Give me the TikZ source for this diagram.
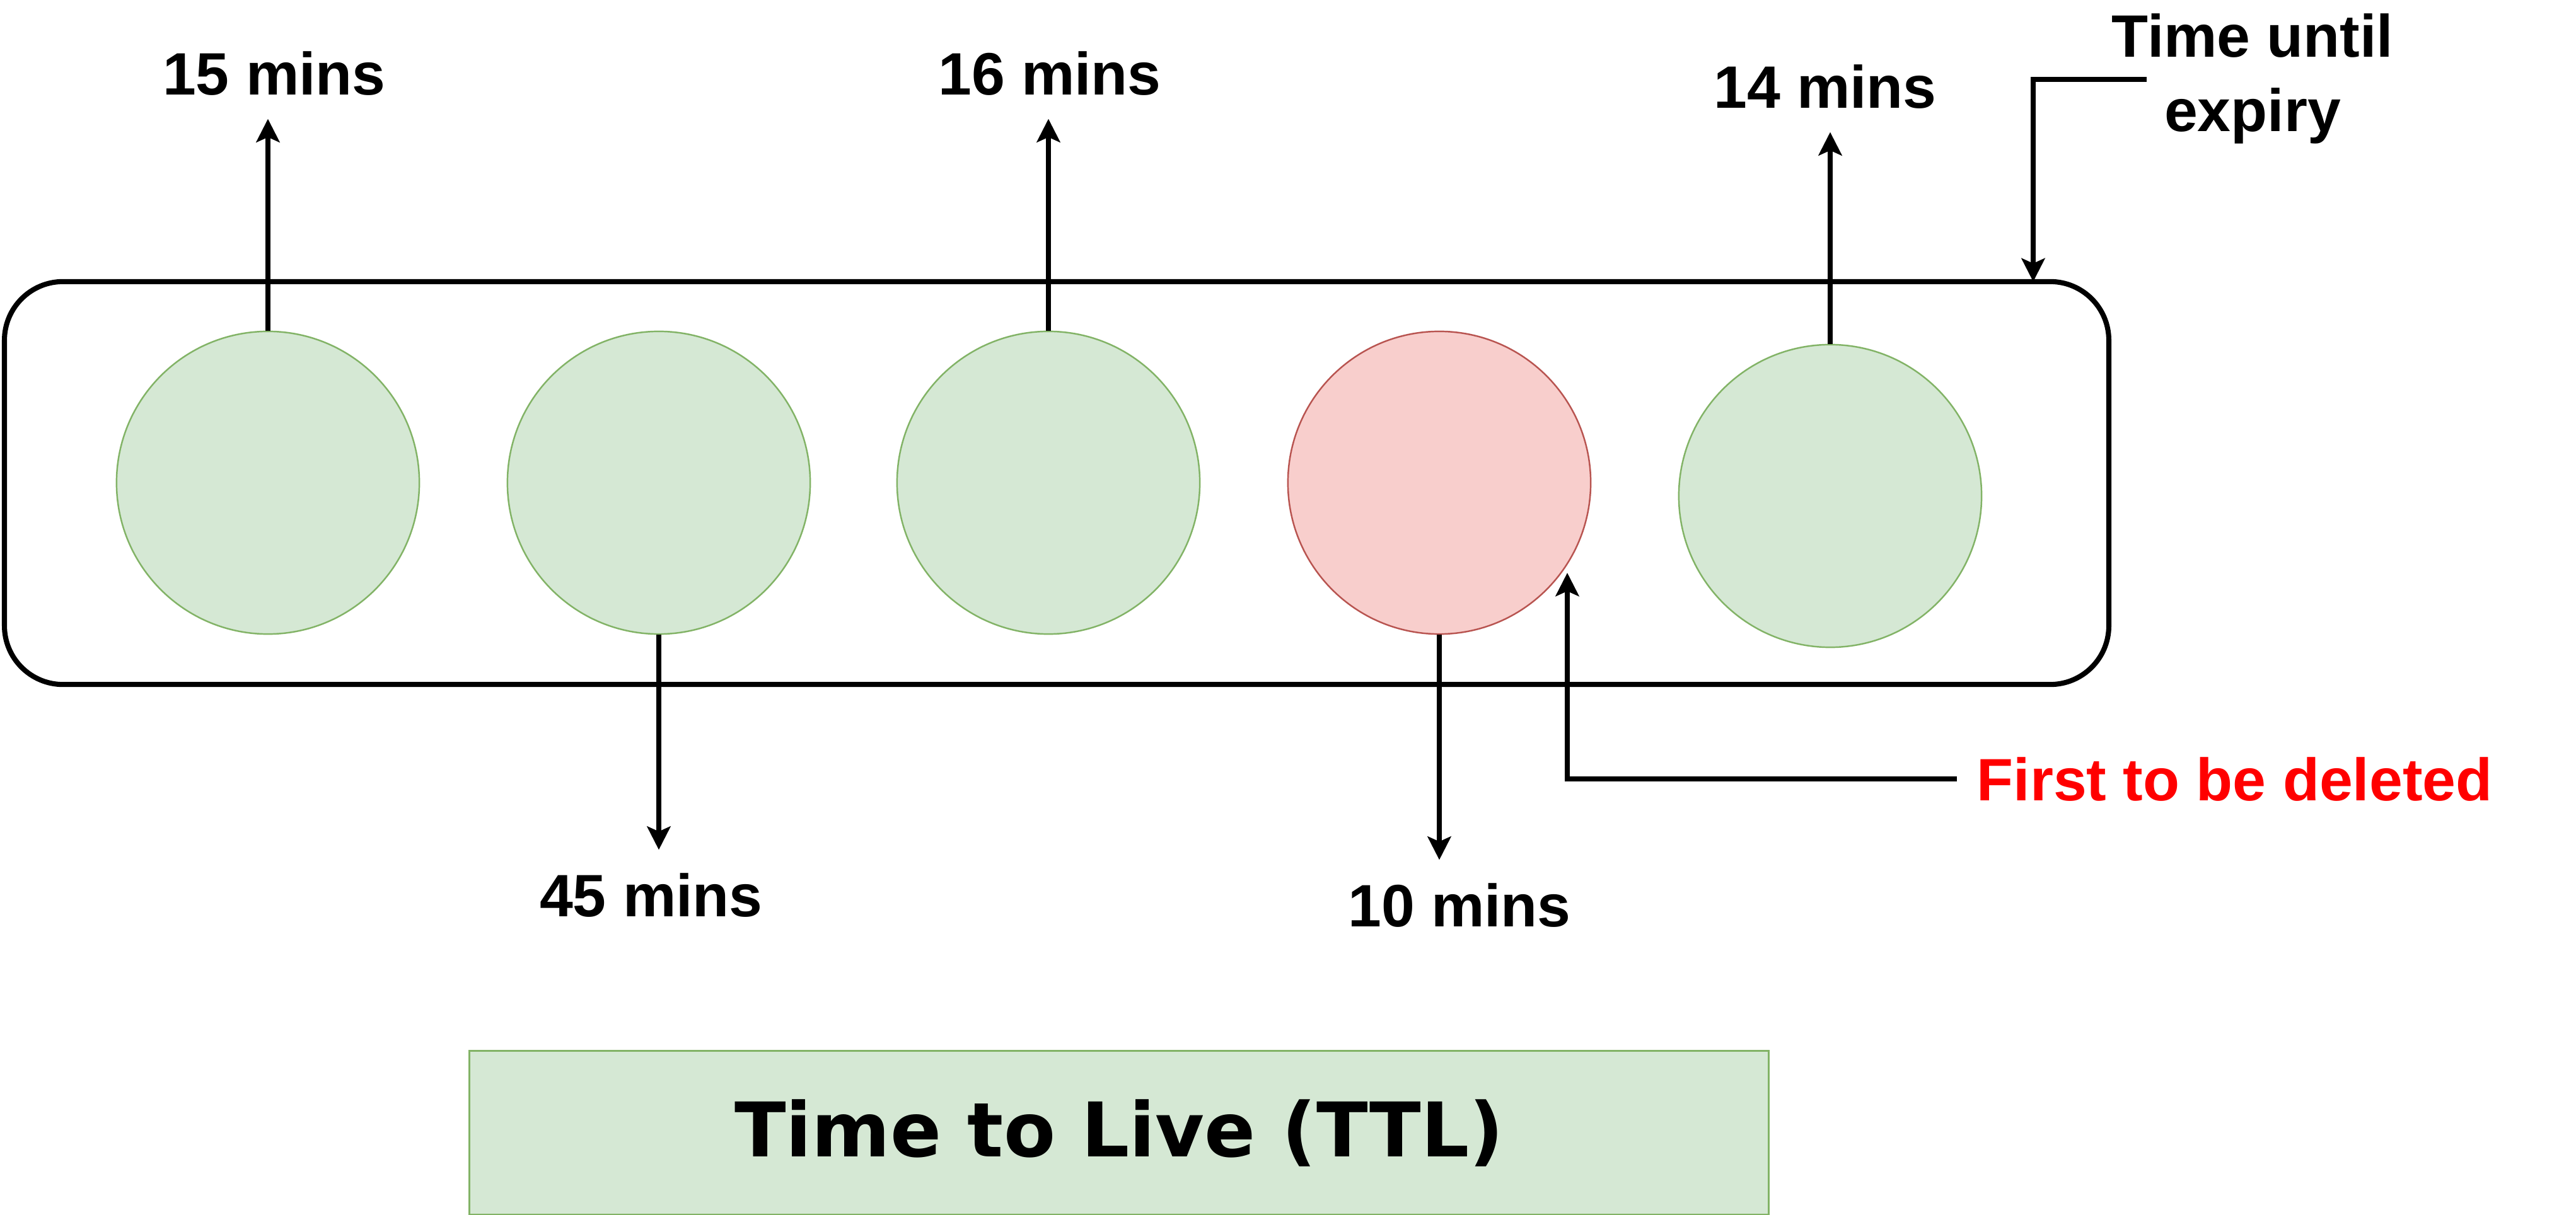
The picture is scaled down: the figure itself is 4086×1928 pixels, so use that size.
\documentclass[tikz,border=0pt]{standalone}
\usepackage{fontspec}
\setmainfont{Liberation Sans}
\newfontfamily\titlefont{DejaVu Sans}
\usetikzlibrary{arrows.meta}
\definecolor{greenfill}{HTML}{D5E8D4}
\definecolor{greenline}{HTML}{82B366}
\definecolor{redfill}{HTML}{F8CECC}
\definecolor{redline}{HTML}{B85450}
\definecolor{firstred}{HTML}{FF0000}

\begin{document}
\begin{tikzpicture}[x=0.01cm,y=-0.01cm]
        \tikzstyle{cache_style} = [draw=black,line width=2.3pt,rounded corners=0.93cm,minimum width=33.36cm,minimum height=6.39cm,inner sep=0pt]
        \tikzstyle{node_style} = [circle,draw=greenline,fill=greenfill,line width=0.7pt,minimum size=4.8cm,inner sep=0pt]
        \tikzstyle{old_style} = [node_style,draw=redline,fill=redfill]
        \tikzstyle{label_style} = [font=\fontsize{27}{33.3}\selectfont\bfseries,inner sep=0.36cm]
        \tikzstyle{title_style} = [draw=greenline,fill=greenfill,line width=0.9pt,minimum width=20.6cm,minimum height=2.6cm,font=\titlefont\bfseries\fontsize{34}{40}\selectfont]
        \tikzstyle{edge_style} = [draw=black,line width=2.3pt,-{Stealth[length=0.37cm,width=0.37cm,inset=0.08cm]}]
        \useasboundingbox (0,0) rectangle (4086,1928);
        \node[cache_style] (cache) at (1676,766.5) {};
        \node[node_style] (c1) at (425,766) {};
        \node[node_style] (c2) at (1045,766) {};
        \node[node_style] (c3) at (1663,766) {};
        \node[old_style] (c4) at (2283,766) {};
        \node[node_style] (c5) at (2903,787) {};
        \node[label_style,anchor=base] (m15) at (435,151) {15 mins};
        \node[label_style,anchor=base] (m16) at (1665,151) {16 mins};
        \node[label_style,anchor=base] (m14) at (2895,172) {14 mins};
        \node[label_style,anchor=base] (m45) at (1033,1454) {45 mins};
        \node[label_style,anchor=base] (m10) at (2315,1470) {10 mins};
        \node[label_style,align=center,inner sep=0pt] (expiry) at (3573,125) {Time until\\expiry};
        \node[label_style,text=firstred,anchor=base west,inner sep=0.31cm] (first) at (3104,1270) {First to be deleted};
        \node[title_style] (ttl) at (1775,1797.5) {Time to Live (TTL)};
        \coordinate (expiry_start) at (3405,126);
        \coordinate (expiry_end) at (3225,447);
        \coordinate (first_tip) at (2486,909);
        \draw[edge_style] (c1.north) -- (c1.north |- m15.south);
        \draw[edge_style] (c3.north) -- (c3.north |- m16.south);
        \draw[edge_style] (c5.north) -- (c5.north |- m14.south);
        \draw[edge_style] (c2.south) -- (c2.south |- m45.north);
        \draw[edge_style] (c4.south) -- (c4.south |- m10.north);
        \draw[edge_style] (expiry_start) -| (expiry_end);
        \draw[edge_style] (first.west) -| (first_tip);
      \end{tikzpicture}
\end{document}
